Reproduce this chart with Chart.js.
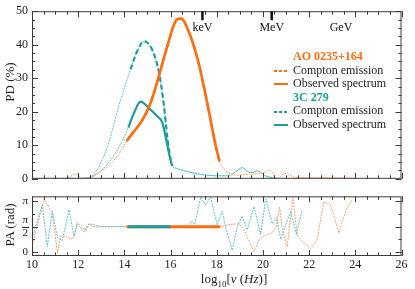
<!DOCTYPE html>
<html>
<head>
<meta charset="utf-8">
<script src="https://cdn.jsdelivr.net/npm/chart.js@4.4.1/dist/chart.umd.min.js"></script>
<style>
  body { margin: 0; background: #fff; width: 415px; height: 289px; overflow: hidden; position: relative;
         font-family: "Liberation Serif", "DejaVu Serif", serif; color: #222; }
  #arriba { position: absolute; left: 0; top: 0; }
  #abajo { position: absolute; left: 0; top: 186px; }
  .ytit { position: absolute; white-space: nowrap; font-size: 13px; transform: translate(-50%, -50%) rotate(-90deg); }
  #xtit { position: absolute; left: 150px; width: 168px; top: 271px; text-align: center; font-size: 13px; }
  #xtit sub { font-size: 9px; }
  #leyenda { position: absolute; left: 274px; top: 50px; font-size: 12px; line-height: 13.6px; }
  #leyenda .tit { font-weight: bold; padding-left: 19px; }
  #leyenda .sw { display: inline-block; width: 14px; height: 2px; margin-right: 5px; vertical-align: middle; }
</style>
</head>
<body>
<canvas id="arriba" width="415" height="190"></canvas>
<canvas id="abajo" width="415" height="103"></canvas>
<div class="ytit" style="left:10px; top:82px;">PD (%)</div>
<div class="ytit" style="left:10px; top:225px;">PA (rad)</div>
<div id="xtit">log<sub>10</sub>[<i>ν</i> (<i>Hz</i>)]</div>
<div id="leyenda">
  <div class="tit" style="color:#ff6d0d">AO 0235+164</div>
  <div><span class="sw" style="background:repeating-linear-gradient(90deg,#ff6d0d 0 3px,transparent 3px 5px)"></span>Compton emission</div>
  <div><span class="sw" style="background:#ff6d0d"></span>Observed spectrum</div>
  <div class="tit" style="color:#1f9c9c">3C 279</div>
  <div><span class="sw" style="background:repeating-linear-gradient(90deg,#1f9c9c 0 3px,transparent 3px 5px)"></span>Compton emission</div>
  <div><span class="sw" style="background:#1f9c9c"></span>Observed spectrum</div>
</div>
<script>
// eje x: log10 de la frecuencia
const xMin = 10, xMax = 26;
const xTickLabels = [10, 12, 14, 16, 18, 20, 22, 24, 26];
const energyNu = [17.38, 20.38, 23.38];
const energyLabels = ['keV', 'MeV', 'GeV'];

// AO 0235+164 - grado de polarizacion (%)
const aoNu = [10.0, 10.5, 11.0, 11.5, 11.9, 12.15, 12.5, 12.9, 13.33, 13.77, 14.1, 14.4, 14.76, 15.1, 15.37, 15.65,
              15.93, 16.15, 16.3, 16.45, 16.8, 17.23, 17.59, 17.95, 18.12, 18.4, 18.95, 19.5, 19.95, 20.3, 20.6,
              20.95, 21.4, 22.0, 22.7, 23.5, 24.0];
const aoPD = [0.1, 0.1, 0.1, 0.2, 1.4, 0.3, 0.4, 2.0, 4.0, 7.5, 11.3, 14.0, 17.3, 22, 27.7, 34.5,
              41.3, 46, 47.7, 47.8, 43.7, 34.1, 22.5, 10, 5.2, 2.3, 1.1, 1.4, 1.6, 2.6, 0.1,
              1.6, 0.4, 0.3, 0.3, 0.2, 0.1];
const aoBand = [14.1, 18.12];

// 3C 279 - emision Compton
const c3CompNu = [10, 11, 12, 12.4, 12.6, 12.9, 13.33, 13.77, 14.27, 14.55, 14.85, 15.0, 15.21, 15.5, 15.71, 15.86,
                  16.0, 16.36, 16.65, 17.23, 18.1, 18.5, 18.8, 19.1, 19.47, 19.75, 20.1, 20.55];
const c3CompPD = [0.1, 0.1, 0.1, 0.3, 0.9, 3.6, 11, 22, 32.7, 38, 41, 40.6, 38.4, 31.7, 22, 12.4,
                  5.7, 2.9, 2.3, 1.4, 0.9, 0.9, 2.0, 3.3, 1.8, 2.3, 0.9, 0.1];
const c3CompBand = [14.27, 16.0];

// 3C 279 - espectro observado
const c3ObsNu = [10, 11, 12, 12.4, 12.9, 13.33, 13.77, 14.17, 14.42, 14.7, 15.06, 15.42, 15.64, 15.79, 15.93, 16.07,
                 16.36, 16.65, 17.23, 18.1, 18.5, 18.8, 19.1, 19.47, 19.75, 20.1, 20.55];
const c3ObsPD = [0.1, 0.1, 0.1, 0.2, 1.8, 5, 9.5, 15.3, 19.7, 23, 21.1, 18.7, 16.8, 12.4, 7.6, 3.8,
                 2.9, 2.3, 1.4, 0.9, 0.9, 2.0, 3.3, 1.8, 2.3, 0.9, 0.1];
const c3ObsBand = [14.17, 16.07];

// angulo de polarizacion (rad)
const aoPaNu = [10.0, 10.52, 10.88, 11.1, 11.24, 11.46, 11.67, 11.82, 11.96, 12.18, 12.32, 12.47, 12.76, 13.0, 14.1,
                16.0, 18.15, 18.53, 18.96, 19.18, 19.61, 19.83, 20.04, 20.4, 20.58, 20.72, 20.84, 21.05, 21.3,
                21.49, 21.7, 22.06, 22.35, 22.64, 22.93, 23.29, 23.58, 23.84];
const aoPaVal = [0.33, 3.27, 2.42, -0.06, 0.99, 0.99, 0.8, 0.9, 1.85, 1.56, 1.27, 1.75, 1.66, 1.57, 1.57,
                 1.57, 1.57, 1.7, 1.75, 1.37, 0.04, 0.8, 0.99, 1.18, 1.56, 2.8, 1.37, 0.33, 3.37,
                 0.99, 0.7, 0.23, 0.8, 3.09, 2.9, 1.18, 2.51, 3.18];
const aoPaBand = [14.1, 18.15];

const c3PaNu = [10.05, 10.45, 10.66, 10.88, 11.1, 11.31, 11.6, 11.82, 11.96, 12.25, 12.47, 12.68, 13.0, 14.17, 16.0,
                16.75, 16.9, 17.05, 17.3, 17.52, 17.74, 18.02, 18.24, 18.38, 18.67, 18.89, 19.1, 19.32, 19.61,
                19.9, 20.12, 20.4, 20.58, 20.77, 20.98, 21.2, 21.45, 21.7];
const c3PaVal = [1.1, 2.9, 0.33, 2.51, 0.9, 0.7, 2.61, 0.99, 1.75, 1.27, 1.75, 1.56, 1.57, 1.57, 1.57,
                 1.57, 1.92, 1.7, 3.37, 2.9, 3.37, 1.66, 2.51, 1.56, 0.13, 1.56, 2.23, 1.37, 2.8,
                 1.09, 3.27, 1.75, 2.13, 0.8, 1.66, 2.51, 1.09, 2.61];
const c3PaBand = [14.17, 16.0];

const naranja = '#ff6d0d', naranjaClaro = '#ffa36e';
const verde = '#1f9c9c', verdeClaro = '#5cc6c6';

Chart.defaults.font.family = '"Liberation Serif", "DejaVu Serif", serif';
Chart.defaults.color = '#222';

function puntos(nu, val) {
    return nu.map((v, i) => ({ x: v, y: val[i] }));
}
function tramo(nu, val, b) {
    return puntos(nu, val).filter(p => p.x >= b[0] && p.x <= b[1]);
}
function linea(data, color, ancho, dash, extra) {
    return Object.assign({ data: data, borderColor: color, borderWidth: ancho, borderDash: dash,
        pointRadius: 0, fill: false }, extra || {});
}

// marco y marcas hacia adentro, en los cuatro lados
const marcoTicks = {
    id: 'marcoTicks',
    afterDatasetsDraw(chart, args, o) {
        const { ctx, chartArea: a } = chart;
        const sx = chart.scales.x, sy = chart.scales.y;
        ctx.save();
        ctx.strokeStyle = '#3c3c3c';
        ctx.lineWidth = 1;
        ctx.strokeRect(a.left + 0.5, a.top + 0.5, a.right - a.left - 1, a.bottom - a.top - 1);
        ctx.beginPath();
        for (let v = xMin; v <= xMax; v += 0.5) {
            const px = Math.round(sx.getPixelForValue(v)) + 0.5;
            const len = v % 2 === 0 ? 6 : 3.5;
            ctx.moveTo(px, a.top); ctx.lineTo(px, a.top + len);
            ctx.moveTo(px, a.bottom); ctx.lineTo(px, a.bottom - len);
        }
        o.yMarcas.forEach(m => {
            const py = Math.round(sy.getPixelForValue(m[0])) + 0.5;
            ctx.moveTo(a.left, py); ctx.lineTo(a.left + m[1], py);
            ctx.moveTo(a.right, py); ctx.lineTo(a.right - m[1], py);
        });
        ctx.stroke();

        // energias en la parte de arriba
        if (o.energias) {
            ctx.lineWidth = 2.5;
            ctx.strokeStyle = '#111';
            ctx.fillStyle = '#111';
            ctx.font = '12px "Liberation Serif", serif';
            ctx.textAlign = 'center';
            ctx.textBaseline = 'middle';
            energyNu.forEach((nu, i) => {
                const px = sx.getPixelForValue(nu);
                if (i < 2) {
                    ctx.beginPath();
                    ctx.moveTo(px, a.top); ctx.lineTo(px, a.top + 9);
                    ctx.stroke();
                }
                ctx.fillText(energyLabels[i], px, a.top + 17);
            });
        }
        // raya de la fraccion pi/2
        if (o.fraccion) {
            const py = Math.round(sy.getPixelForValue(Math.PI / 2)) + 0.5;
            ctx.lineWidth = 1;
            ctx.strokeStyle = '#222';
            ctx.beginPath();
            ctx.moveTo(a.left - 10, py); ctx.lineTo(a.left - 3, py);
            ctx.stroke();
        }
        ctx.restore();
    }
};

const marcasPD = [];
for (let v = 0; v <= 50; v += 2.5) marcasPD.push([v, v % 10 === 0 ? 6 : 3]);
const marcasPA = [[0, 6], [Math.PI / 4, 3], [Math.PI / 2, 6], [3 * Math.PI / 4, 3], [Math.PI, 6]];

new Chart(document.getElementById('arriba'), {
    type: 'line',
    data: {
        datasets: [
            linea(tramo(aoNu, aoPD, aoBand), naranja, 2.6, []),
            linea(tramo(aoNu, aoPD, aoBand), naranja, 2.2, [5, 3]),
            linea(tramo(c3ObsNu, c3ObsPD, c3ObsBand), verde, 2.2, []),
            linea(tramo(c3CompNu, c3CompPD, c3CompBand), verde, 2.2, [5, 3]),
            linea(puntos(aoNu, aoPD), naranjaClaro, 1, [2, 1]),
            linea(puntos(c3ObsNu, c3ObsPD), verdeClaro, 1, [2, 1]),
            linea(puntos(c3CompNu, c3CompPD), verdeClaro, 1, [2, 1])
        ].map(d => Object.assign(d, { cubicInterpolationMode: 'monotone' }))
    },
    options: {
        responsive: false,
        animation: false,
        layout: { padding: { top: 11, right: 13.5, bottom: 7.5, left: 0 } },
        plugins: {
            legend: { display: false },
            tooltip: { enabled: false },
            marcoTicks: { yMarcas: marcasPD, energias: true }
        },
        scales: {
            x: { type: 'linear', min: xMin, max: xMax, display: false },
            y: {
                min: 0, max: 50,
                grid: { display: false, drawTicks: false },
                border: { display: false },
                ticks: { stepSize: 10, padding: 4, font: { size: 12 }, color: '#222' },
                afterFit: s => { s.width = 32; }
            }
        }
    },
    plugins: [marcoTicks]
});

new Chart(document.getElementById('abajo'), {
    type: 'line',
    data: {
        datasets: [
            linea(tramo(c3PaNu, c3PaVal, c3PaBand), verde, 3, []),
            linea(tramo(aoPaNu, aoPaVal, aoPaBand), naranja, 3, []),
            linea(puntos(c3PaNu, c3PaVal), verdeClaro, 1, [2, 1]),
            linea(puntos(aoPaNu, aoPaVal), naranjaClaro, 1, [2, 1])
        ]
    },
    options: {
        responsive: false,
        animation: false,
        layout: { padding: { top: 6, right: 13.5, bottom: 0, left: 0 } },
        plugins: {
            legend: { display: false },
            tooltip: { enabled: false },
            marcoTicks: { yMarcas: marcasPA, fraccion: true }
        },
        scales: {
            x: {
                type: 'linear', min: xMin, max: xMax,
                grid: { display: false, drawTicks: false },
                border: { display: false },
                ticks: { padding: 2, font: { size: 12 }, color: '#222', maxRotation: 0 },
                afterBuildTicks: s => { s.ticks = xTickLabels.map(v => ({ value: v })); },
                afterFit: s => { s.height = 33; }
            },
            y: {
                min: -0.23, max: 3.43,
                grid: { display: false, drawTicks: false },
                border: { display: false },
                ticks: {
                    padding: 4, font: { size: 11, lineHeight: 1.15 }, color: '#222',
                    callback: v => Math.abs(v) < 0.01 ? '0' : (Math.abs(v - Math.PI) < 0.01 ? 'π' : ['π', '2'])
                },
                afterBuildTicks: s => { s.ticks = [0, Math.PI / 2, Math.PI].map(v => ({ value: v })); },
                afterFit: s => { s.width = 32; }
            }
        }
    },
    plugins: [marcoTicks]
});
</script>
</body>
</html>
